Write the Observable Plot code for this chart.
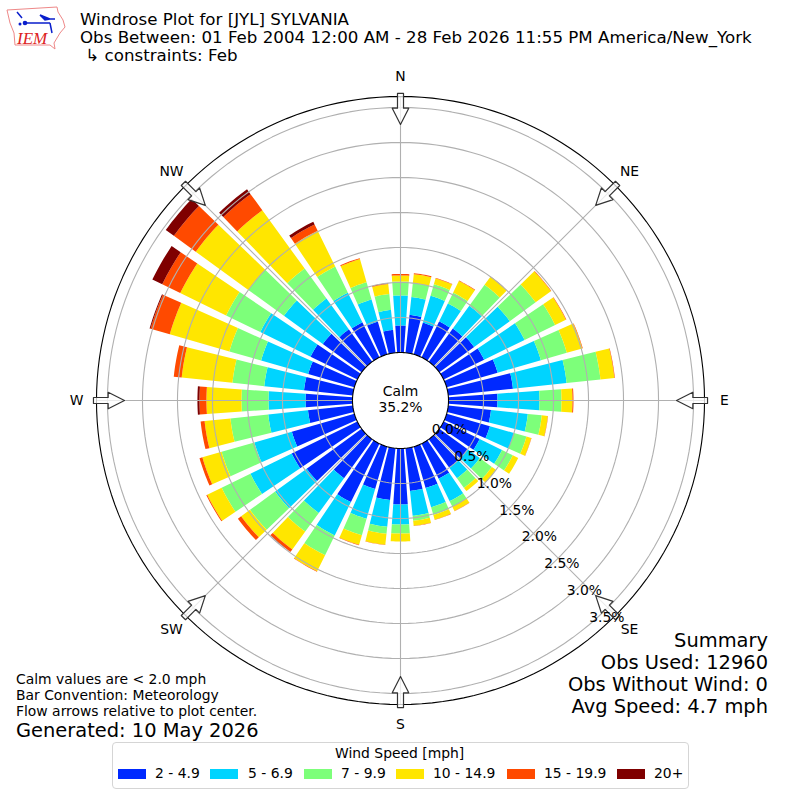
<!DOCTYPE html>
<html>
<head>
<meta charset="utf-8">
<script src="https://cdn.jsdelivr.net/npm/d3@7"></script>
<script src="https://cdn.jsdelivr.net/npm/@observablehq/plot@0.6"></script>
<style>
html,body{margin:0;padding:0;background:#fff;}
#page{position:relative;width:800px;height:800px;overflow:hidden;font-family:"DejaVu Sans",sans-serif;color:#000;}
#page svg{position:absolute;left:0;top:0;}
.t{position:absolute;white-space:pre;line-height:1;}
.sw{position:absolute;height:10px;width:28px;}
#legendbox{position:absolute;left:112px;top:742px;width:575px;height:45px;border:1.3px solid #d5d5d5;border-radius:4px;}
</style>
</head>
<body>
<div id="page"></div>
<script>
const directions = d3.range(0, 360, 10);
const speedBins = ["2 - 4.9","5 - 6.9","7 - 9.9","10 - 14.9","15 - 19.9","20+"];
const binColors = ["#0029ff","#00d4ff","#7dff7a","#ffe600","#ff4a00","#7f0000"];
const s2to5 = [.386,.543,.471,.571,.586,.614,.643,.757,.929,.7,.614,.643,.571,.5,.5,.557,.614,.614,.8,.743,.629,.929,.686,.971,1.043,.929,.643,.671,.7,.686,.743,.686,.571,.557,.486,.329];
const s5to7 = [.429,.257,.4,.286,.4,.629,.643,.643,.771,.6,.529,.357,.357,.214,.186,.357,.286,.357,.286,.386,.443,.529,.614,.557,.657,.557,.571,.529,.571,.7,.8,.686,.543,.471,.329,.286];
const s7to10 = [.2,.2,.171,.171,.371,.457,.486,.386,.486,.314,.2,.186,.171,.214,.171,.086,.114,.071,.129,.1,.243,.314,.329,.443,.457,.486,.543,.386,.457,.471,.543,.629,.529,.414,.257,.229];
const s10to15 = [.086,.129,.086,.186,.143,.27,.171,.229,.2,.157,.086,.071,.086,.071,.057,.071,.071,.071,.114,.157,.143,.257,.314,.157,.229,.286,.371,.5,.729,.886,.729,.929,1.029,.571,.343,.143];
const s15to20 = [.021,.014,.007,.007,.004,.007,.007,.007,.007,.014,.004,.004,0,0,0,.004,.004,.004,0,.004,.007,.007,.043,.057,.014,.043,.057,.1,.114,.286,.286,.386,.286,.1,.014,.014];
const s20plus = [0,0,0,0,0,0,0,0,0,0,0,0,0,0,0,0,0,0,0,0,0,0,.004,0,0,0,0,.029,0,.014,.157,.143,.086,.043,0,0];
const binSeries = [s2to5,s5to7,s7to10,s10to15,s15to20,s20plus];
const radialTicks = [0,.5,1,1.5,2,2.5,3,3.5];
const compass = [["N",0],["NE",45],["E",90],["SE",135],["S",180],["SW",225],["W",270],["NW",315]];
const titleLines = ["Windrose Plot for [JYL] SYLVANIA","Obs Between: 01 Feb 2004 12:00 AM - 28 Feb 2026 11:55 PM America/New_York"," ↳ constraints: Feb"];
const summaryLines = ["Summary","Obs Used: 12960","Obs Without Wind: 0","Avg Speed: 4.7 mph"];
const noteLines = ["Calm values are < 2.0 mph","Bar Convention: Meteorology","Flow arrows relative to plot center."];
const generated = "Generated: 10 May 2026";
const calmText = "Calm\n35.2%";

// polar axis: percent 0 sits on the calm hole, outer frame at rMax
const hole = 0.686, rMax = 3.657, span = 5.714, barHalf = 4;
const pol = (p, deg) => { const a = deg * Math.PI / 180, r = p + hole; return {x: r * Math.sin(a), y: r * Math.cos(a)}; };

const wedges = [];
directions.forEach((dir, i) => {
  let base = 0;
  binSeries.forEach((series, b) => {
    const v = series[i];
    if (v > 0) {
      const top = base + v, id = dir + "-" + b;
      for (let a = -barHalf; a <= barHalf; a++) wedges.push({id, bin: speedBins[b], ...pol(top, dir + a)});
      for (let a = barHalf; a >= -barHalf; a--) wedges.push({id, bin: speedBins[b], ...pol(base, dir + a)});
    }
    base += v;
  });
});
const ring = p => d3.range(0, 361, 2).map(a => ({p, ...pol(p, a)}));
const rings = radialTicks.slice(1).flatMap(ring);
const spokes = compass.flatMap(([n, d]) => [{n, ...pol(0, d)}, {n, ...pol(rMax, d)}]);
// hollow arrow outline, in (radius percent, sideways percent)
const arrowPts = [[3.7,-.043],[3.7,.043],[3.49,.043],[3.49,.118],[3.257,0],[3.49,-.118],[3.49,-.043]];
const arrows = compass.flatMap(([n, d]) => arrowPts.map(([r, s]) => {
  const c = pol(r, d), a = d * Math.PI / 180;
  return {n, x: c.x + s * Math.cos(a), y: c.y - s * Math.sin(a)};
}));
const compassLabels = compass.map(([n, d]) => ({n, ...pol(3.94, d)}));
const radial = radialTicks.map(p => ({label: p.toFixed(1) + "%", ...pol(p, 140)}));

const chart = Plot.plot({
  width: 800, height: 800, margin: 0,
  x: {domain: [-span, span], axis: null},
  y: {domain: [-span, span], axis: null},
  color: {domain: speedBins, range: binColors},
  style: {fontFamily: '"DejaVu Sans",sans-serif', background: "white"},
  marks: [
    Plot.line(wedges, {x: "x", y: "y", z: "id", fill: "bin", stroke: "none", curve: "linear-closed"}),
    Plot.line(rings, {x: "x", y: "y", z: "p", stroke: "#b0b0b0", strokeWidth: 1.1}),
    Plot.line(spokes, {x: "x", y: "y", z: "n", stroke: "#b0b0b0", strokeWidth: 1.1}),
    Plot.line(ring(0), {x: "x", y: "y", stroke: "black", strokeWidth: 1.1}),
    Plot.line(ring(rMax), {x: "x", y: "y", stroke: "black", strokeWidth: 1.1}),
    Plot.line(arrows, {x: "x", y: "y", z: "n", fill: "white", fillOpacity: 0.75, stroke: "#333", strokeWidth: 1.2, curve: "linear-closed"}),
    Plot.text(compassLabels, {x: "x", y: "y", text: "n", fontSize: 13.9, fill: "black"}),
    Plot.text(radial, {x: "x", y: "y", text: "label", fontSize: 13.9, fill: "black", dx: 18, dy: -7.5}),
    Plot.text([calmText], {x: () => 0, y: () => 0, text: d => d, fontSize: 13.9, fill: "black", lineHeight: 1.15, dy: -2})
  ]
});
const page = document.getElementById("page");
page.appendChild(chart);

function addText(txt, left, top, size, extra) {
  const d = document.createElement("div");
  d.className = "t"; d.textContent = txt;
  d.style.fontSize = size + "px";
  if (left != null) d.style.left = left + "px";
  d.style.top = top + "px";
  if (extra) Object.assign(d.style, extra);
  page.appendChild(d);
}
titleLines.forEach((s, i) => addText(s, 80, 12 + i * 18, 16.67));
summaryLines.forEach((s, i) => addText(s, null, 631 + i * 22, 19.44, {right: "32px"}));
noteLines.forEach((s, i) => addText(s, 16, 673 + i * 16, 13.9));
addText(generated, 16, 721, 19.44);

const box = document.createElement("div"); box.id = "legendbox"; page.appendChild(box);
addText("Wind Speed [mph]", 335, 747, 13.9);
const swatchX = [118,210,304,396,507,617], labelX = [155,248,341,433,544,654];
speedBins.forEach((s, i) => {
  const sw = document.createElement("div");
  sw.className = "sw"; sw.style.left = swatchX[i] + "px"; sw.style.top = "769px"; sw.style.background = binColors[i];
  page.appendChild(sw);
  addText(s, labelX[i], 767, 13.9);
});

// IEM logo
const logo = document.createElement("div");
logo.style.cssText = "position:absolute;left:0;top:0;width:70px;height:54px;";
logo.innerHTML = `<svg width="70" height="54" viewBox="0 0 70 54">
<path d="M7 10 L57 7 L58 12 L63 20 L65 27 L60 33 L57 38 L54 43 L55 49 L50 45 L15 45 L14 33 L10 23 Z" fill="white" stroke="#e88" stroke-width="1"/>
<path d="M23 23 L50 23 M40 15 L50 19 L45 20 Z M50 19 L55 19 M50 23 L52 33 M17 12 L22 18" stroke="#0a1ecc" stroke-width="1.5" fill="#0a1ecc"/>
<circle cx="25" cy="23" r="2.3" fill="#0a1ecc"/><circle cx="20" cy="24" r="1.5" fill="#0a1ecc"/>
<text x="17" y="44" font-family="Liberation Serif" font-style="italic" font-size="17" fill="#d22">IEM</text>
</svg>`;
page.appendChild(logo);
</script>
</body>
</html>
